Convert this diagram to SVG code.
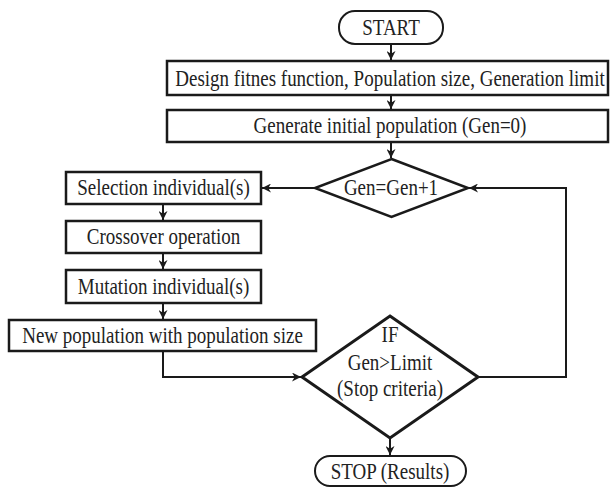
<svg xmlns="http://www.w3.org/2000/svg" width="610" height="487" viewBox="0 0 610 487">
<defs>
<style>
.box{fill:#fff;stroke:#1a1a1a;stroke-width:2.5}
.dia{fill:#fff;stroke:#1a1a1a;stroke-width:2.5}
.term{fill:#fff;stroke:#1a1a1a;stroke-width:2}
.t{font-family:"Liberation Serif","Times New Roman",serif;font-size:19px;fill:#222;text-anchor:middle}
.c{fill:none;stroke:#1a1a1a;stroke-width:2}
</style>
<marker id="ah" viewBox="0 0 10 10" refX="10" refY="5" markerWidth="9" markerHeight="9" markerUnits="userSpaceOnUse" orient="auto">
<path d="M0,0 L10,5 L0,10 L3,5 z" fill="#1a1a1a"/>
</marker>
</defs>
<g id="connectors">
<line class="c" x1="391" y1="44" x2="391" y2="60" marker-end="url(#ah)"/>
<line class="c" x1="391" y1="95" x2="391" y2="109" marker-end="url(#ah)"/>
<line class="c" x1="391" y1="142" x2="391" y2="158" marker-end="url(#ah)"/>
<line class="c" x1="315" y1="188" x2="262" y2="188" marker-end="url(#ah)"/>
<line class="c" x1="163" y1="204" x2="163" y2="220" marker-end="url(#ah)"/>
<line class="c" x1="163" y1="253" x2="163" y2="269" marker-end="url(#ah)"/>
<line class="c" x1="163" y1="303" x2="163" y2="319" marker-end="url(#ah)"/>
<polyline class="c" points="163,351 163,377 301,377" marker-end="url(#ah)"/>
<polyline class="c" points="478,377 566,377 566,188 469,188" marker-end="url(#ah)"/>
<line class="c" x1="390" y1="438" x2="390" y2="455" marker-end="url(#ah)"/>
</g>
<g id="start">
<rect class="term" x="339" y="11" width="104" height="33" rx="16"/>
<text class="t" transform="translate(391,35) scale(1,1.25)">START</text>
</g>
<g id="design">
<rect class="box" x="167" y="61" width="441" height="34"/>
<text class="t" transform="translate(390,85.5) scale(1,1.25)">Design fitnes function, Population size, Generation limit</text>
</g>
<g id="generate">
<rect class="box" x="167" y="110" width="441" height="32"/>
<text class="t" transform="translate(390,133) scale(1,1.25)">Generate initial population (Gen=0)</text>
</g>
<g id="gen-inc">
<polygon class="dia" points="391.5,159 468,188 391.5,217 315,188"/>
<text class="t" transform="translate(391,195) scale(1,1.25)">Gen=Gen+1</text>
</g>
<g id="selection">
<rect class="box" x="66" y="172" width="195" height="32"/>
<text class="t" transform="translate(163.5,195) scale(1,1.25)">Selection individual(s)</text>
</g>
<g id="crossover">
<rect class="box" x="66" y="221" width="195" height="32"/>
<text class="t" transform="translate(163.5,244) scale(1,1.25)">Crossover operation</text>
</g>
<g id="mutation">
<rect class="box" x="66" y="270" width="195" height="33"/>
<text class="t" transform="translate(163.5,294) scale(1,1.25)">Mutation individual(s)</text>
</g>
<g id="newpop">
<rect class="box" x="9" y="320" width="307" height="31"/>
<text class="t" transform="translate(162.5,343) scale(1,1.25)">New population with population size</text>
</g>
<g id="if">
<polygon class="dia" style="stroke-width:3" points="390,316 478,377 390,438 302,377"/>
<text class="t" transform="translate(390,342) scale(1,1.25)">IF</text>
<text class="t" transform="translate(390,370) scale(1,1.25)">Gen&gt;Limit</text>
<text class="t" transform="translate(390,396) scale(1,1.25)">(Stop criteria)</text>
</g>
<g id="stop">
<rect class="term" x="315" y="456" width="151" height="30" rx="15"/>
<text class="t" transform="translate(390,479) scale(1,1.25)">STOP (Results)</text>
</g>
</svg>
